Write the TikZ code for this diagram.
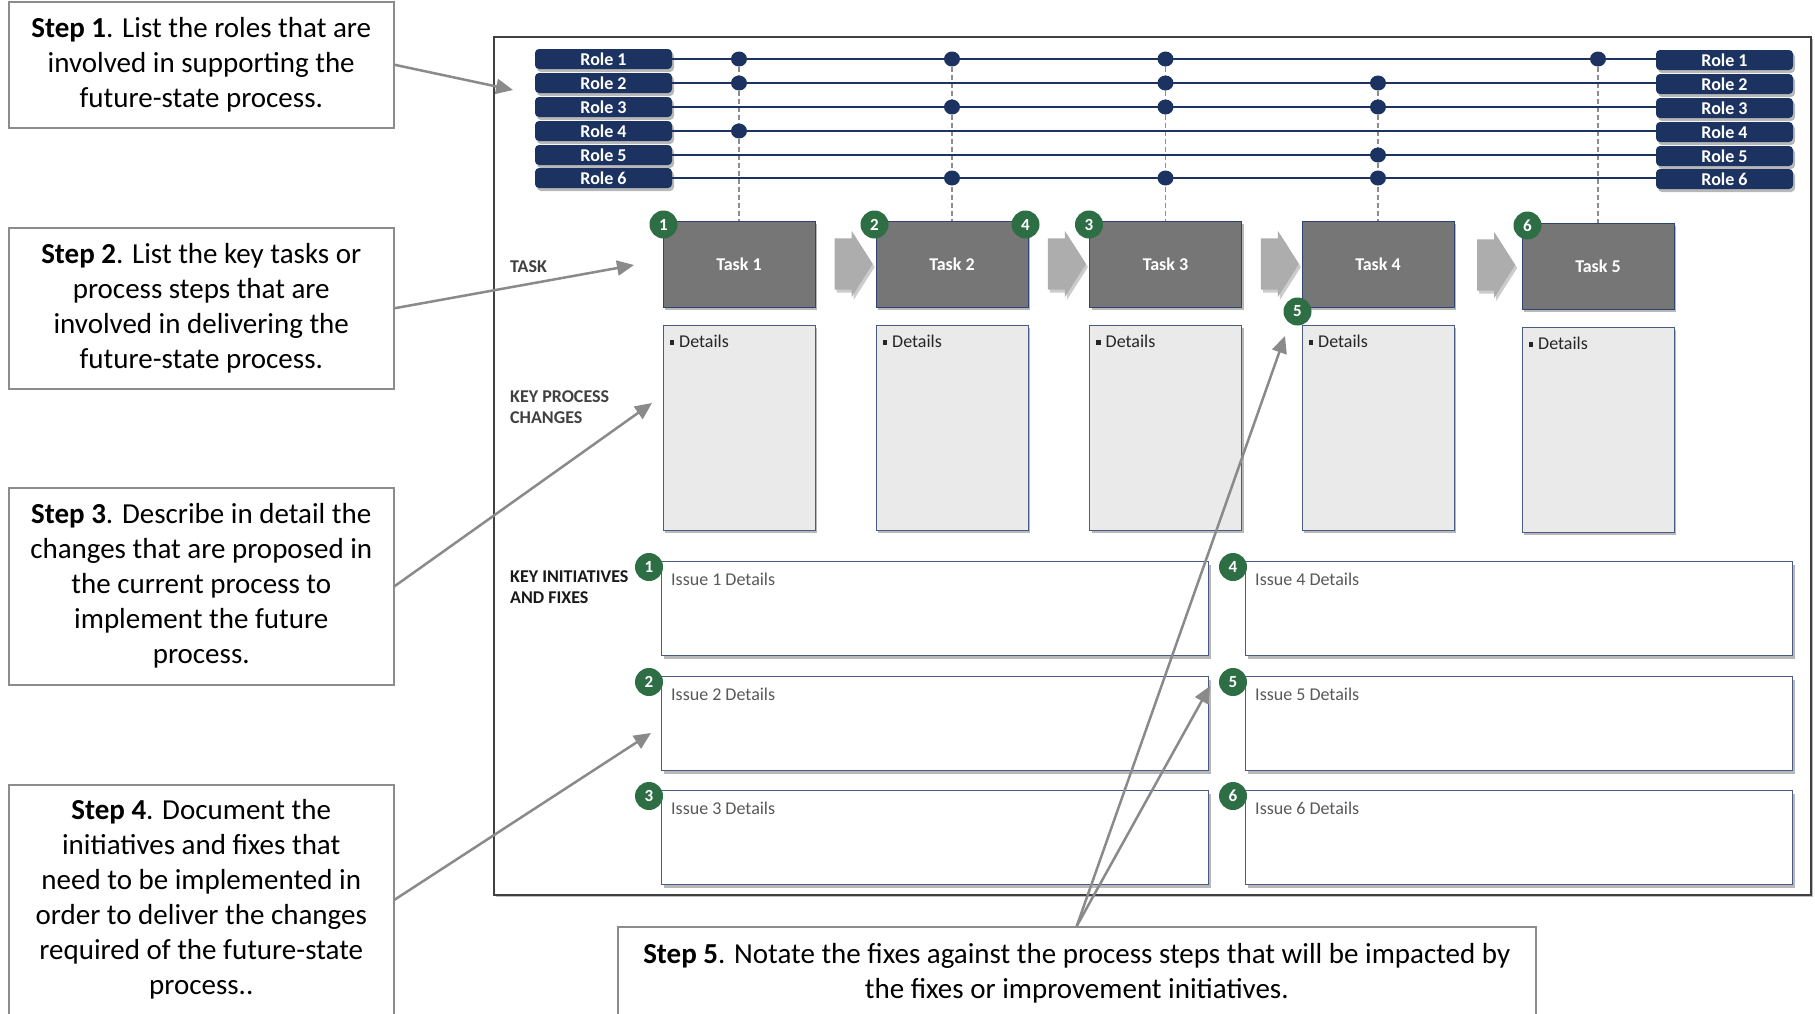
\documentclass[tikz,border=0pt]{standalone}
\usepackage{fontspec}
\setmainfont{Carlito}
\usetikzlibrary{shapes.arrows,shapes.geometric,shadows,arrows.meta,calc,backgrounds}

\definecolor{navy}{HTML}{1C3361}
\definecolor{taskgray}{HTML}{767676}
\definecolor{taskedge}{HTML}{2F4370}
\definecolor{detailgray}{HTML}{EAEAEA}
\definecolor{boxedge}{HTML}{4A5C85}
\definecolor{badgegreen}{HTML}{2E6E44}
\definecolor{chevron}{HTML}{ADADAD}
\definecolor{notegray}{HTML}{8A8A8A}
\definecolor{stepedge}{HTML}{8C8C8C}
\definecolor{labelgray}{HTML}{404040}
\definecolor{issuetext}{HTML}{595959}

\tikzset{
  softshadow/.style={drop shadow={shadow xshift=2pt, shadow yshift=-3pt, opacity=0.28, fill=black}},
  rolebox/.style={fill=navy, rounded corners=4pt, minimum width=137pt, minimum height=20pt,
    inner sep=0pt, text=white, font=\fontsize{18}{20}\selectfont\bfseries, softshadow},
  roleline/.style={draw=navy, line width=2pt},
  dot/.style={ellipse, fill=navy, minimum width=16pt, minimum height=15pt, inner sep=0pt},
  dashline/.style={draw=gray!90, line width=1.2pt, dash pattern=on 5pt off 3pt},
  taskbox/.style={fill=taskgray, draw=taskedge, line width=1pt, minimum width=152pt,
    minimum height=86pt, inner sep=0pt, text=white, font=\fontsize{18}{20}\selectfont\bfseries, softshadow},
  detailbox/.style={fill=detailgray, draw=boxedge, line width=1pt, minimum width=152pt,
    minimum height=205pt, inner sep=0pt, anchor=north west, softshadow},
  issuebox/.style={fill=white, draw=boxedge, line width=1pt, minimum width=547pt,
    minimum height=94pt, inner sep=0pt, anchor=north west, softshadow},
  badge/.style={circle, fill=badgegreen, minimum size=28pt, inner sep=0pt, text=white,
    font=\fontsize{17}{18}\selectfont\bfseries},
  chev/.style={single arrow, fill=chevron, minimum height=38pt,
    single arrow head extend=7.5pt, single arrow tip angle=115, inner sep=0pt,
    drop shadow={shadow xshift=2pt, shadow yshift=-3pt, opacity=0.2, fill=black}},
  sidelabel/.style={inner sep=0pt, anchor=west, align=left, text=labelgray,
    font=\fontsize{18}{21}\selectfont\bfseries},
  detailtext/.style={inner sep=0pt, anchor=west, text=black!85, font=\fontsize{18}{20}\selectfont},
  issuetxt/.style={inner sep=0pt, anchor=west, text=issuetext, font=\fontsize{18}{20}\selectfont},
  stepbox/.style={draw=stepedge, line width=1.5pt, fill=white, inner sep=0pt, align=center,
    font=\fontsize{29}{35}\selectfont, anchor=north west},
  notearrow/.style={draw=notegray, line width=2.5pt, -{Triangle[length=17pt,width=15pt]}},
  frame/.style={draw=black!75, fill=white, line width=2pt, inner sep=0pt, anchor=north west,
    drop shadow={shadow xshift=2pt, shadow yshift=-2pt, opacity=0.25, fill=black}},
}

\begin{document}
\begin{tikzpicture}[x=1pt,y=-1pt]
\useasboundingbox (0,0) rectangle (1815,1013);
\begin{scope}[on background layer]
  \fill[white] (0,0) rectangle (1815,1013);
  % outer frame of the template
  \node[frame, minimum width=1317pt, minimum height=858pt] (frame) at (493,36) {};
\end{scope}

% tasks
\node[taskbox] (t1) at (739,264) {Task 1};
\node[taskbox] (t2) at (952,264) {Task 2};
\node[taskbox] (t3) at (1165.5,264) {Task 3};
\node[taskbox] (t4) at (1378,264) {Task 4};
\node[taskbox] (t5) at (1598,266) {Task 5};

% chevrons between tasks
\node[chev] (c12) at ($(t1.east)!0.5!(t2.west)$) {\rule{0pt}{51pt}};
\node[chev] (c23) at ($(t2.east)!0.5!(t3.west)$) {\rule{0pt}{51pt}};
\node[chev] (c34) at ($(t3.east)!0.5!(t4.west)$) {\rule{0pt}{51pt}};
\node[chev] (c45) at ($(t4.east)!0.5!(t5.west)$) {\rule{0pt}{51pt}};

% roles on both sides and their swim lines
\foreach \i/\y in {1/59,2/83,3/107,4/131,5/155,6/178} {
  \node[rolebox] (rl\i) at (603.5,\y) {Role \i};
  \node[rolebox] (rr\i) at (1724.5,\y+1) {Role \i};
  \draw[roleline] (rl\i.east) -- (rl\i.east -| rr\i.west);
}

% role involvement dots and the drop lines to each task
\foreach \t/\tp/\lst in {1/1/{1,2,4}, 2/1/{1,3,6}, 3/1/{1,2,3,6}, 4/2/{2,3,5,6}, 5/1/{1}} {
  \foreach \r in \lst {
    \node[dot] (d\t\r) at (t\t.north |- rl\r) {};
  }
  \begin{scope}[on background layer]
    \draw[dashline] (d\t\tp) -- (t\t.north);
  \end{scope}
}

% task badges
\node[badge] (b1) at ([shift={(1,4)}]t1.north west) {1};
\node[badge] (b2) at ([shift={(-1,4)}]t2.north west) {2};
\node[badge] (b4) at ([shift={(-3,4)}]t2.north east) {4};
\node[badge] (b3) at ([shift={(0,4)}]t3.north west) {3};
\node[badge] (b5) at ([shift={(-4,4)}]t4.south west) {5};
\node[badge] (b6) at ([shift={(6,3)}]t5.north west) {6};

% key process change boxes
\foreach \t in {1,2,3,4,5} {
  \node[detailbox] (k\t) at ([yshift=-17pt]t\t.south west) {};
  \node[detailtext] at ([shift={(7,17)}]k\t.north west) {\rule[3pt]{4.5pt}{4.5pt}\hspace{5pt}Details};
}

% row labels
\node[sidelabel] (lt) at (510,267) {TASK};
\node[sidelabel] (lk) at (510,407) {KEY PROCESS\\CHANGES};
\node[sidelabel, text=black!90] (li) at (510,587) {KEY INITIATIVES\\AND FIXES};

% key initiatives and fixes
\foreach \n/\x/\y in {1/661/561, 2/661/676, 3/661/790, 4/1245/561, 5/1245/676, 6/1245/790} {
  \node[issuebox] (i\n) at (\x,\y) {};
  \node[badge] (ib\n) at ([shift={(-12,6)}]i\n.north west) {\n};
  \node[issuetxt] at ([shift={(10,18)}]i\n.north west) {Issue \n\ Details};
}

% instruction boxes
\node[stepbox, minimum width=385pt, minimum height=126pt] (s1) at (8,1) {%
  \textbf{Step 1}. List the roles that are\\involved in supporting the\\future-state process.};
\node[stepbox, minimum width=385pt, minimum height=161pt] (s2) at (8,227) {%
  \textbf{Step 2}. List the key tasks or\\process steps that are\\involved in delivering the\\future-state process.};
\node[stepbox, minimum width=385pt, minimum height=197pt] (s3) at (8,487) {%
  \textbf{Step 3}. Describe in detail the\\changes that are proposed in\\the current process to\\implement the future\\process.};
\node[stepbox, minimum width=385pt, minimum height=230pt] (s4) at (8,784) {%
  \textbf{Step 4}. Document the\\initiatives and fixes that\\need to be implemented in\\order to deliver the changes\\required of the future-state\\process..};
\node[stepbox, minimum width=918pt, minimum height=94pt] (s5) at (617,926) {%
  \textbf{Step 5}. Notate the fixes against the process steps that will be impacted by\\the fixes or improvement initiatives.};

% pointer targets
\coordinate (p1) at (513,90);
\coordinate (p2) at (634,265);
\coordinate (p3) at (652,403);
\coordinate (p4) at (651,733);
\coordinate (p5a) at (1285,336);
\coordinate (p5b) at (1210,686);

\draw[notearrow] (s1.east) -- (p1);
\draw[notearrow] (s2.east) -- (p2);
\draw[notearrow] (s3.east) -- (p3);
\draw[notearrow] (s4.east) -- (p4);
\draw[notearrow] (s5.north) -- (p5a);
\draw[notearrow] (s5.north) -- (p5b);
\end{tikzpicture}
\end{document}
